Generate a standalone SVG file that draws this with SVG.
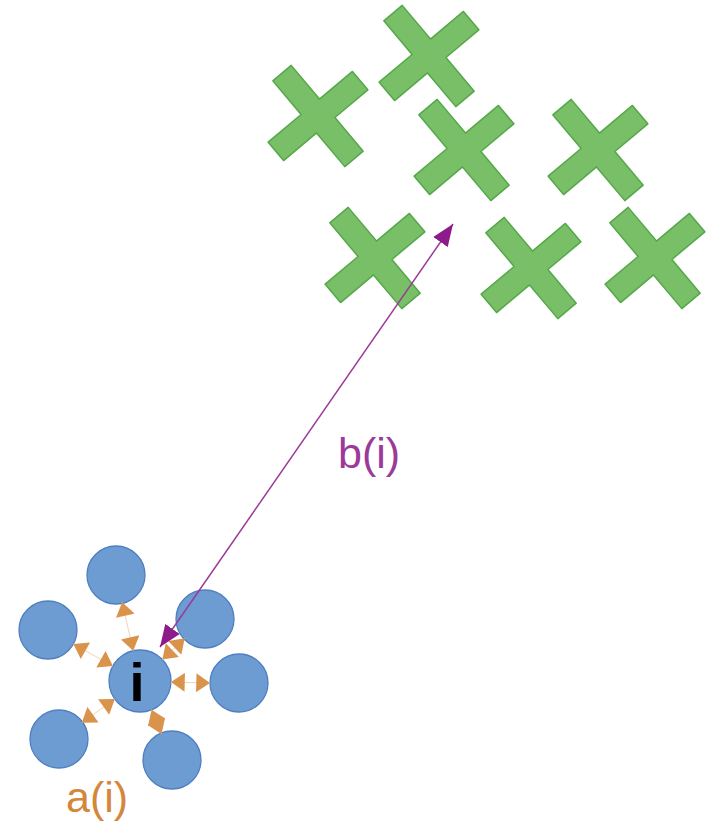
<svg xmlns="http://www.w3.org/2000/svg" xmlns:xlink="http://www.w3.org/1999/xlink" width="716" height="822" viewBox="0 0 716 822">
<style>
.pt{fill:#6c9cd2;stroke:#4f7fbf;stroke-width:1.3}
.cr{fill:#79bf68;stroke:#55a84a;stroke-width:1.5;stroke-linejoin:round}
.oa{stroke:#f0d6b8;stroke-width:1;fill:none;marker-start:url(#oh);marker-end:url(#oh)}
.pa{stroke:#9b3a98;stroke-width:1.5;fill:none;marker-start:url(#ph);marker-end:url(#ph)}
.lbl{font-family:"Liberation Sans",Arial,sans-serif;font-size:43px}
</style>
<defs>
<path id="cross" class="cr" transform="matrix(0.643 0.766 -0.766 0.643 0 0)" d="M-12,-55 L12,-55 L12,-12 L56,-12 L56,12 L12,12 L12,55 L-12,55 L-12,12 L-56,12 L-56,-12 L-12,-12 Z"/>
<marker id="oh" markerUnits="userSpaceOnUse" markerWidth="15" markerHeight="19" refX="13" refY="9" orient="auto-start-reverse" viewBox="0 0 13 18">
<path d="M0,0 L13,9 L0,18 Z" fill="#d9934a"/>
</marker>
<marker id="ph" markerUnits="userSpaceOnUse" markerWidth="22" markerHeight="18" refX="20" refY="8" orient="auto-start-reverse" viewBox="0 0 20 16">
<path d="M0,0 L20,8 L0,16 Z" fill="#8e1b8c"/>
</marker>
</defs>
<g id="clusterB">
<g id="x1"><use xlink:href="#cross" transform="translate(318,116)"/></g>
<g id="x2"><use xlink:href="#cross" transform="translate(429,56)"/></g>
<g id="x3"><use xlink:href="#cross" transform="translate(464,150)"/></g>
<g id="x4"><use xlink:href="#cross" transform="translate(598,150)"/></g>
<g id="x5"><use xlink:href="#cross" transform="translate(375,258)"/></g>
<g id="x6"><use xlink:href="#cross" transform="translate(531,268)"/></g>
<g id="x7"><use xlink:href="#cross" transform="translate(655,258)"/></g>
</g>
<g id="clusterA">
<g id="c-top"><circle class="pt" cx="116" cy="575" r="29"/></g>
<g id="c-left"><circle class="pt" cx="48" cy="630" r="29"/></g>
<g id="c-ur"><circle class="pt" cx="205" cy="619" r="29"/></g>
<g id="c-right"><circle class="pt" cx="239" cy="683" r="29"/></g>
<g id="c-ll"><circle class="pt" cx="59" cy="739" r="29"/></g>
<g id="c-lr"><circle class="pt" cx="172" cy="760" r="29"/></g>
<g id="node-i"><circle class="pt" cx="140" cy="681" r="31"/>
<text x="137" y="701" text-anchor="middle" font-family="Liberation Sans,Arial,sans-serif" font-size="54" font-weight="bold" fill="#000">i</text></g>
</g>
<g id="connectors">
<line class="oa" x1="171" y1="682" x2="210" y2="683"/>
<line class="oa" x1="151.6" y1="709.7" x2="161.5" y2="734"/>
<line class="oa" x1="114.8" y1="699" x2="81.8" y2="722.7"/>
<line class="oa" x1="162.4" y1="659.6" x2="184.7" y2="638.3"/>
<line class="oa" x1="133.2" y1="650.8" x2="122.2" y2="602.3"/>
<line class="oa" x1="112.9" y1="666" x2="73.4" y2="644"/>
<line class="pa" x1="160" y1="647" x2="453" y2="224"/>
</g>
<g id="labels">
<text class="lbl" x="338" y="468" fill="#9b3a98">b(i)</text>
<text class="lbl" x="66" y="812" font-size="42" fill="#d4873a">a(i)</text>
</g>
</svg>
